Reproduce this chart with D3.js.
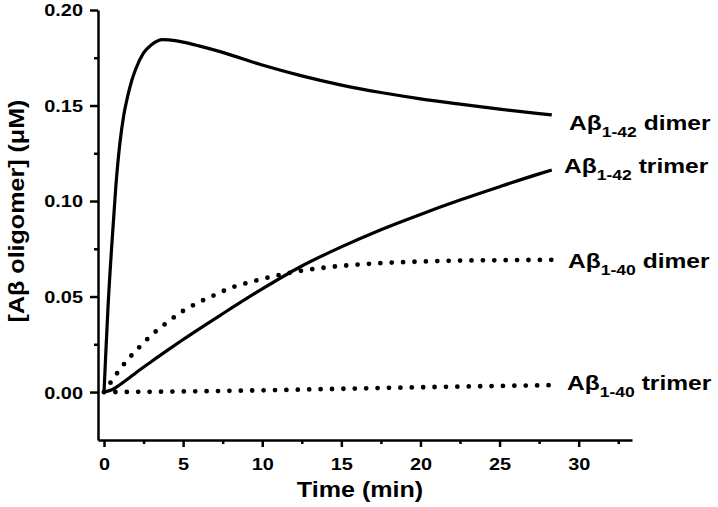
<!DOCTYPE html>
<html>
<head>
<meta charset="utf-8">
<script src="https://cdn.jsdelivr.net/npm/d3@7"></script>
<style>
  body { margin: 0; background: #fff; }
  svg text { font-family: "Liberation Sans", Arial, sans-serif; font-weight: bold; fill: #000; }
</style>
</head>
<body>
<svg id="chart" width="718" height="507"></svg>
<script>
// ---- data ----
const dimer42Time = [0, 0.1, 0.25, 0.5, 0.75, 1.0, 1.25, 1.5, 1.75, 2.0, 2.5, 3.0, 3.7, 4.5, 5, 6, 7.5, 10, 12.5, 15, 17.5, 20, 22.5, 25, 27.5, 28.3];
const dimer42Vals = [0, 0.018, 0.044, 0.078, 0.108, 0.130, 0.145, 0.155, 0.163, 0.169, 0.1775, 0.1818, 0.1845, 0.184, 0.1832, 0.1812, 0.1778, 0.1712, 0.1655, 0.1607, 0.1568, 0.1535, 0.1507, 0.1481, 0.1458, 0.1451];

const trimer42Time = [0, 0.5, 1, 1.5, 2, 3, 4, 5, 7.5, 10, 12.5, 15, 17.5, 20, 22.5, 25, 27.5, 28.3];
const trimer42Vals = [0, 0.0012, 0.0038, 0.0068, 0.010, 0.016, 0.0218, 0.0275, 0.041, 0.054, 0.066, 0.076, 0.085, 0.093, 0.1005, 0.1075, 0.1142, 0.1162];

const dimer40Time = [0, 0.5, 1, 1.5, 2, 3, 4, 5, 6, 7, 8, 9, 10, 12, 14, 16, 18, 20, 22.5, 25, 28.3];
const dimer40Vals = [0, 0.006, 0.0118, 0.017, 0.0215, 0.0298, 0.0365, 0.0425, 0.047, 0.0508, 0.0545, 0.057, 0.0592, 0.0628, 0.0652, 0.0667, 0.0677, 0.0683, 0.0688, 0.069, 0.0692];

const trimer40Time = [0, 5, 10, 15, 20, 25, 28.3];
const trimer40Vals = [0, 0.0003, 0.0009, 0.0017, 0.0025, 0.0032, 0.0036];

const xTicks = [0, 5, 10, 15, 20, 25, 30];
const xMinorTicks = [2.5, 7.5, 12.5, 17.5, 22.5, 27.5, 32.5];
const yTicks = [0, 0.05, 0.10, 0.15, 0.20];
const yMinorTicks = [0.025, 0.075, 0.125, 0.175];

const seriesNames = ["dimer", "trimer", "dimer", "trimer"];
const seriesSubs = ["1-42", "1-42", "1-40", "1-40"];

// ---- layout ----
const TS = 1.17; // the figure's lettering is wider than Liberation Sans
const svg = d3.select("#chart");

const x = d3.scaleLinear().domain([-0.38, 33.37]).range([98, 632]);
const y = d3.scaleLinear().domain([-0.0251, 0.20]).range([440, 10]);

// minor ticks first so the axis line sits on top
svg.append("g")
    .attr("transform", "translate(0,440)")
    .call(d3.axisBottom(x).tickValues(xMinorTicks).tickSize(4).tickFormat(""))
    .call(g => g.select(".domain").remove());
svg.append("g")
    .attr("transform", "translate(98,0)")
    .call(d3.axisLeft(y).tickValues(yMinorTicks).tickSize(4).tickFormat(""))
    .call(g => g.select(".domain").remove());

const gx = svg.append("g")
    .attr("transform", "translate(0,440)")
    .call(d3.axisBottom(x).tickValues(xTicks).tickSize(7).tickSizeOuter(0).tickFormat(d3.format("d")));
gx.selectAll("text")
    .attr("y", 0).attr("dy", null)
    .attr("transform", `translate(0,30) scale(${TS},1)`)
    .style("font-size", "17px");

const gy = svg.append("g")
    .attr("transform", "translate(98,0)")
    .call(d3.axisLeft(y).tickValues(yTicks).tickSize(8).tickSizeOuter(0).tickFormat(d3.format(".2f")));
gy.selectAll("text")
    .attr("x", 0).attr("dy", "0.35em")
    .attr("transform", `translate(-15,0) scale(${TS},1)`)
    .style("font-size", "17px");

svg.selectAll(".domain, .tick line")
    .attr("stroke", "#000")
    .attr("stroke-width", 2.5);

// ---- curves ----
const line = d3.line()
    .x(d => x(d[0]))
    .y(d => y(d[1]))
    .curve(d3.curveMonotoneX);

const series = [
    { t: dimer42Time, v: dimer42Vals, dotted: false },
    { t: trimer42Time, v: trimer42Vals, dotted: false },
    { t: dimer40Time, v: dimer40Vals, dotted: true },
    { t: trimer40Time, v: trimer40Vals, dotted: true }
];

series.forEach(s => {
    const pts = s.t.map((t, i) => [t, s.v[i]]);
    const p = svg.append("path")
        .datum(pts)
        .attr("d", line)
        .attr("fill", "none")
        .attr("stroke", "#000");
    if (s.dotted) {
        p.attr("stroke-width", 4.8)
         .attr("stroke-linecap", "round")
         .attr("stroke-dasharray", "0 11.4");
    } else {
        p.attr("stroke-width", 3.2)
         .attr("stroke-linejoin", "round");
    }
});

// ---- series labels ----
const labelX = [569, 564, 568, 567];
const labelBaseline = [129.5, 172.5, 267.5, 390];

seriesNames.forEach((name, i) => {
    const t = svg.append("text")
        .attr("transform", `translate(${labelX[i]},${labelBaseline[i]}) scale(${TS},1)`)
        .style("font-size", "21px")
        .style("white-space", "pre");
    t.append("tspan").text("A\u03b2");
    t.append("tspan").attr("dy", 7).style("font-size", "15px").text(seriesSubs[i]);
    t.append("tspan").attr("dy", -7).text(" " + name);
});

// ---- axis titles ----
svg.append("text")
    .attr("transform", `translate(360,497) scale(1.14,1)`)
    .attr("text-anchor", "middle")
    .style("font-size", "22px")
    .text("Time (min)");

svg.append("text")
    .attr("transform", `translate(24,211) rotate(-90) scale(1.14,1)`)
    .attr("text-anchor", "middle")
    .style("font-size", "22px")
    .text("[A\u03b2 oligomer] (\u03bcM)");
</script>
</body>
</html>
